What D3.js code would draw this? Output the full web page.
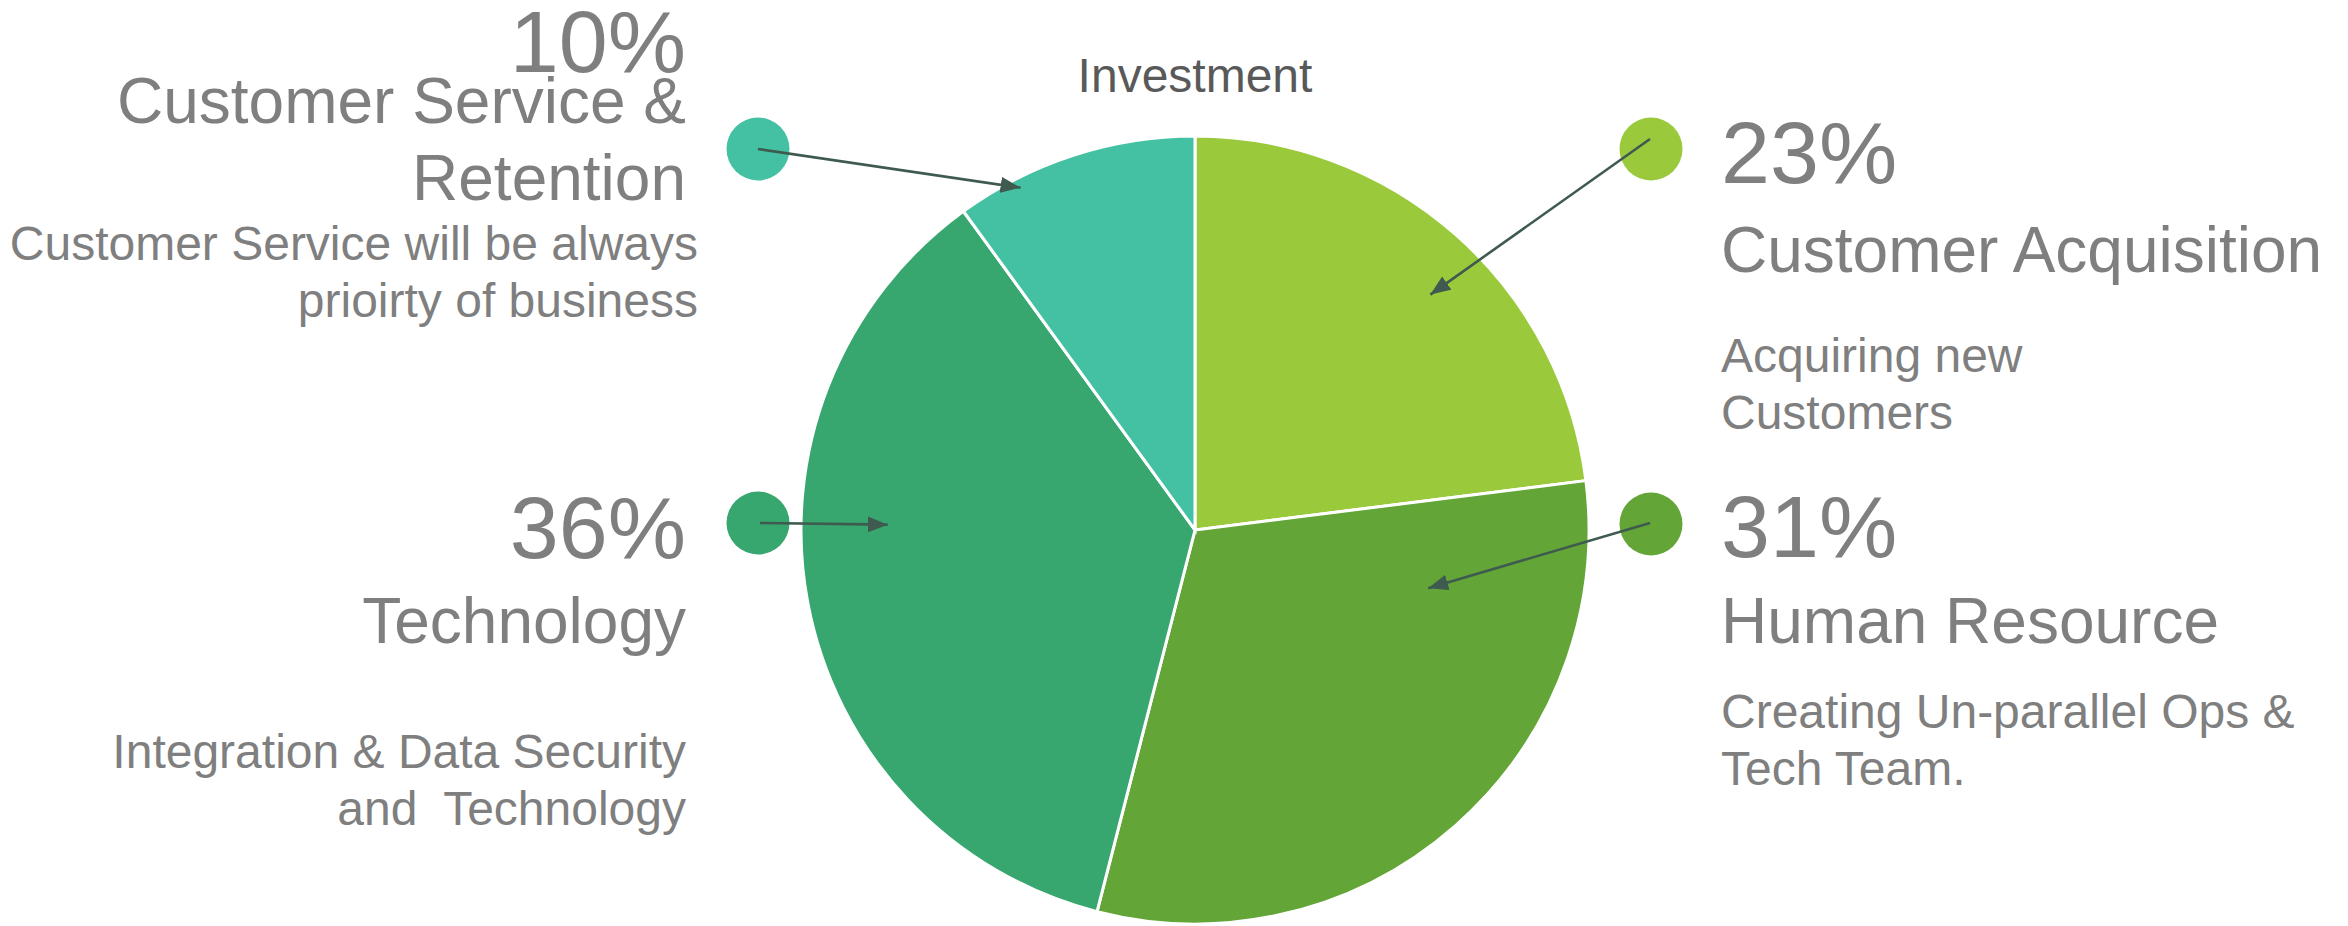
<!DOCTYPE html>
<html>
  <head>
    <meta charset="utf-8">
    <title>Investment</title>
    <style>
    body { margin: 0; background: #fff; }
    text { font-family: "Liberation Sans", Arial, sans-serif; fill: #7f7f7f; white-space: pre; }
    .title { fill: #595959; }
    .slice { stroke: #fff; stroke-width: 3; }
    .pointer { stroke: #3f5a4e; stroke-width: 2.6; fill: none; }
    </style>
  </head>
  <body>
    <svg width="2348" height="926"></svg>
    <script src="https://d3js.org/d3.v7.min.js"></script>
    <script>

      // data
      var categories = ["Customer Acquisition", "Human Resource", "Technology", "Customer Service & Retention"];
      var values = [23, 31, 36, 10];
      var colors = ["#9aca3c", "#63a537", "#37a76f", "#44c1a3"];
      var headings = [["Customer Acquisition"], ["Human Resource"], ["Technology"], ["Customer Service &", "Retention"]];
      var notes = [
        ["Acquiring new", "Customers"],
        ["Creating Un-parallel Ops &", "Tech Team."],
        ["Integration & Data Security", "and  Technology"],
        ["Customer Service will be always", "prioirty of business"]
      ];

      var svg = d3.select("svg"),
          cx = 1195, cy = 530, radius = 394;

      // layout of each callout: dot position, arrow tip (angle deg / radius fraction), text blocks
      var callouts = [
        {dot: [1651, 149], from: [1650, 139], tipA: 45, tipR: 0.845, side: "right",
         pct: 183, head: 272, note: 372, noteX: 1721, x: 1721},
        {dot: [1651, 524], from: [1650, 523], tipA: 104, tipR: 0.61, side: "right",
         pct: 557, head: 643, note: 728, noteX: 1721, x: 1721},
        {dot: [758, 523], from: [760, 523], tipA: 271, tipR: 0.78, side: "left",
         pct: 558, head: 643, note: 768, noteX: 686, x: 686},
        {dot: [758, 149], from: [758, 149], tipA: 333, tipR: 0.975, side: "left",
         pct: 72, head: 123, note: 260, noteX: 698, x: 686}
      ];

      svg.append("defs").append("marker")
          .attr("id", "head")
          .attr("markerUnits", "userSpaceOnUse")
          .attr("viewBox", "0 0 20 16")
          .attr("refX", 20).attr("refY", 8)
          .attr("markerWidth", 20).attr("markerHeight", 16)
          .attr("orient", "auto")
        .append("path")
          .attr("d", "M0,0L20,8L0,16Z")
          .attr("fill", "#3f5a4e");

      var pie = d3.pie().sort(null).value(function(d) { return d; });
      var arc = d3.arc().innerRadius(0).outerRadius(radius);

      var g = svg.append("g")
          .attr("transform", "translate(" + cx + "," + cy + ")");

      g.selectAll(".slice")
        .data(pie(values))
        .enter().append("path")
          .attr("class", "slice")
          .attr("d", arc)
          .attr("fill", function(d, i) { return colors[i]; });

      svg.append("text")
          .attr("class", "title")
          .attr("x", cx).attr("y", 92)
          .attr("text-anchor", "middle")
          .attr("font-size", 48)
          .text("Investment");

      callouts.forEach(function(c, i) {
        var a = c.tipA * Math.PI / 180,
            tx = cx + Math.sin(a) * radius * c.tipR,
            ty = cy - Math.cos(a) * radius * c.tipR;

        svg.append("circle")
            .attr("cx", c.dot[0]).attr("cy", c.dot[1])
            .attr("r", 31.5)
            .attr("fill", colors[i]);

        svg.append("line")
            .attr("class", "pointer")
            .attr("x1", c.from[0]).attr("y1", c.from[1])
            .attr("x2", tx).attr("y2", ty)
            .attr("marker-end", "url(#head)");

        var anchor = c.side == "right" ? "start" : "end";

        svg.append("text")
            .attr("x", c.x).attr("y", c.pct)
            .attr("text-anchor", anchor)
            .attr("font-size", 88)
            .text(values[i] + "%");

        headings[i].forEach(function(t, j) {
          svg.append("text")
              .attr("x", c.x).attr("y", c.head + j * 77)
              .attr("text-anchor", anchor)
              .attr("font-size", 64)
              .text(t);
        });

        notes[i].forEach(function(t, j) {
          svg.append("text")
              .attr("x", c.noteX).attr("y", c.note + j * 57)
              .attr("text-anchor", anchor)
              .attr("font-size", 48)
              .text(t);
        });
      });
    </script>
  </body>
</html>
